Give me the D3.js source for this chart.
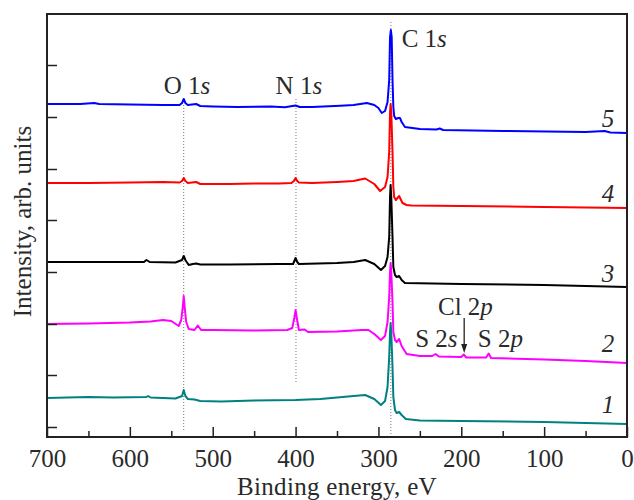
<!DOCTYPE html>
<head>
  <meta charset="utf-8">
  <script src="https://d3js.org/d3.v7.min.js"></script>
  <style>
    body {
      margin: 0;
      background: #fff;
    }
    svg text {
      font-family: "Liberation Serif", "Times New Roman", serif;
      fill: #2a2a2a;
    }
    .axis path {
      display: none;
    }
    .axis line {
      stroke: #222;
      stroke-width: 1.5;
    }
  </style>
</head>

<body>
<script>

// binding energy (eV), intensity (arb. units)
var spec1 = [[700,39],[650,40],[620,39.5],[580,40],[578,41],[575,39.5],[545,38.5],[537,41],[535,47],[533,41],[530,38],[522,37.5],[515,36],[490,35.5],[450,36.5],[400,37],[370,38],[330,41],[316,42],[305,38],[297,32],[292,36],[289,50],[287,80],[286,105],[285.3,114],[284.5,105],[283,70],[282,40],[280,27],[278,24],[275,25],[272,22],[267,18],[250,16.5],[200,16],[100,15],[0,13]];

var spec2 = [[700,113],[650,113.5],[600,114.5],[575,115.5],[560,117],[550,116],[541,111],[538,117],[536,131],[535,141],[534,131],[532,115],[529,108],[522,107],[518,111.5],[514,107],[500,107],[450,106.5],[410,107],[404,109],[401.5,119],[400,127],[398.5,119],[396,107],[389,107.5],[385,105],[350,105.5],[320,107],[312,107],[305,103],[297,97],[292,101],[289,115],[287,140],[286,165],[285.3,174],[284.5,165],[283,135],[282,105],[280,97],[278,95],[275,98],[272,91],[266,83],[250,81],[235,81],[231,83],[227,80.5],[200,80],[197,82.5],[194,79.5],[170,79.5],[167,83.5],[164,79],[100,77.5],[50,76],[0,74]];

var spec3 = [[700,175],[640,175],[583,175],[580,177],[576,175],[545,174.5],[537,177],[535,181],[533,177],[529,172],[524,173],[520,173.5],[515,172.5],[480,172.5],[420,173],[403,173],[401,177],[400,179],[398,175],[396,173],[350,174],[330,175],[316,177],[305,173],[297,167],[292,171],[289,180],[287,200],[286,240],[285.3,252],[284.5,240],[283,200],[282,170],[280,162],[278,160],[275,161],[272,157],[268,154],[200,153],[100,152],[0,150]];

var spec4 = [[700,254],[650,254],[600,254.5],[560,255],[540,254.5],[537,256],[535,259],[533,256],[530,254],[520,255],[515,253],[480,253],[450,253.5],[420,253.5],[405,254],[402,256],[400,259],[398,256],[396,254.5],[380,254],[350,255],[330,256],[316,258.5],[305,253],[298,246],[292,250],[289,260],[287,285],[286,325],[285.3,333],[284.5,325],[283,285],[282,250],[281,240],[279,237],[275,241],[271,234],[266,232],[260,231.5],[200,231],[100,230],[0,229]];

var spec5 = [[700,333],[660,333],[643,334],[637,333],[600,332.5],[560,332],[540,332],[537,334],[535,338],[533,334],[530,332],[520,333],[515,331],[500,330.5],[470,330],[430,330.5],[413,329.7],[400,331.5],[395,330],[380,330],[346,331.3],[330,332],[314,334],[305,332],[300,329],[296,324],[292,326],[289,335],[287,357],[286,400],[285,407],[284,400],[283,357],[282,330],[281,321],[279,318],[276,319],[274,319],[272,315],[268,310],[250,308],[230,307.5],[226,308.5],[222,307],[150,306],[50,305],[27,306],[20,304.5],[0,304]];

var spectra = [spec2, spec1, spec3, spec4, spec5];
var specColors = ["#ff00ff", "#008080", "#000000", "#ff0000", "#0000ff"];

var xMajor = [700, 600, 500, 400, 300, 200, 100, 0];
var xMinor = [650, 550, 450, 350, 250, 150, 50];
var yTicks = [10, 62, 113, 165, 217, 268, 320, 372];

// reference lines: eV, from, to
var refLines = [[535, 7, 332], [399.5, 55, 339], [285, 0, 416]];

var margin = {top: 14, right: 7, bottom: 63, left: 47},
    width = 634 - margin.left - margin.right,
    height = 500 - margin.top - margin.bottom;

var x = d3.scaleLinear().domain([700, 0]).range([0, width]);
var y = d3.scaleLinear().domain([0, 423]).range([height, 0]);

var svg = d3.select("body").append("svg")
    .attr("width", 634)
    .attr("height", 500)
  .append("g")
    .attr("transform", "translate(" + margin.left + "," + margin.top + ")");

// dotted guides
svg.selectAll(".ref")
    .data(refLines)
  .enter().append("line")
    .attr("x1", function(d) { return x(d[0]); })
    .attr("x2", function(d) { return x(d[0]); })
    .attr("y1", function(d) { return y(d[1]); })
    .attr("y2", function(d) { return y(d[2]); })
    .style("stroke", "#777")
    .style("stroke-width", 1)
    .style("stroke-dasharray", "1,2");

var line = d3.line()
    .x(function(d) { return x(d[0]); })
    .y(function(d) { return y(d[1]); });

svg.selectAll(".spec")
    .data(spectra)
  .enter().append("path")
    .attr("class", "spec")
    .attr("d", line)
    .style("fill", "none")
    .style("stroke", function(d, i) { return specColors[i]; })
    .style("stroke-width", 2)
    .style("stroke-linejoin", "round");

// axes
svg.append("g")
    .attr("class", "axis")
    .attr("transform", "translate(0," + height + ")")
    .call(d3.axisBottom(x).tickValues(xMajor).tickSizeInner(-10).tickSizeOuter(0).tickPadding(12))
    .selectAll("text")
    .style("font-size", "25px");

svg.append("g")
    .attr("class", "axis")
    .attr("transform", "translate(0," + height + ")")
    .call(d3.axisBottom(x).tickValues(xMinor).tickSizeInner(-6).tickSizeOuter(0).tickFormat(""));

svg.append("g")
    .attr("class", "axis")
    .call(d3.axisLeft(y).tickValues(yTicks).tickSizeInner(-10).tickSizeOuter(0).tickFormat(""));

svg.append("rect")
    .attr("width", width)
    .attr("height", height)
    .style("fill", "none")
    .style("stroke", "#222")
    .style("stroke-width", 2);

svg.append("text")
    .attr("x", width / 2)
    .attr("y", height + 58)
    .style("text-anchor", "middle")
    .style("font-size", "25px")
    .style("letter-spacing", "0.3px")
    .text("Binding energy, eV");

svg.append("text")
    .attr("transform", "translate(-16," + (height / 2 - 4) + ") rotate(-90)")
    .style("text-anchor", "middle")
    .style("font-size", "25px")
    .text("Intensity, arb. units");

// peak labels: main text, italic part, eV, intensity, anchor
var peakLabels = [
  ["O 1", "s", 531, 343, "middle"],
  ["N 1", "s", 396, 343, "middle"],
  ["C 1", "s", 272, 390, "start"],
  ["Cl 2", "p", 195, 122, "middle"],
  ["S 2", "s", 204.5, 90, "end"],
  ["S 2", "p", 180, 90, "start"]
];

var pl = svg.selectAll(".plabel")
    .data(peakLabels)
  .enter().append("text")
    .attr("x", function(d) { return x(d[2]); })
    .attr("y", function(d) { return y(d[3]); })
    .style("text-anchor", function(d) { return d[4]; })
    .style("font-size", "25px");
pl.append("tspan").text(function(d) { return d[0]; });
pl.append("tspan").style("font-style", "italic").text(function(d) { return d[1]; });

// Cl 2p arrow
svg.append("line")
    .attr("x1", x(196.5)).attr("x2", x(196.5))
    .attr("y1", y(119)).attr("y2", y(92))
    .style("stroke", "#222")
    .style("stroke-width", 1.3);
svg.append("path")
    .attr("d", "M" + (x(196.5) - 3) + "," + y(93) + "L" + (x(196.5) + 3) + "," + y(93) + "L" + x(196.5) + "," + y(84) + "Z")
    .style("fill", "#222");

// curve numbers
var curveNums = [["1", 24], ["2", 85], ["3", 155], ["4", 235], ["5", 310]];
svg.selectAll(".cnum")
    .data(curveNums)
  .enter().append("text")
    .attr("x", x(23))
    .attr("y", function(d) { return y(d[1]); })
    .style("text-anchor", "middle")
    .style("font-style", "italic")
    .style("font-size", "25px")
    .text(function(d) { return d[0]; });

</script>
</body>
